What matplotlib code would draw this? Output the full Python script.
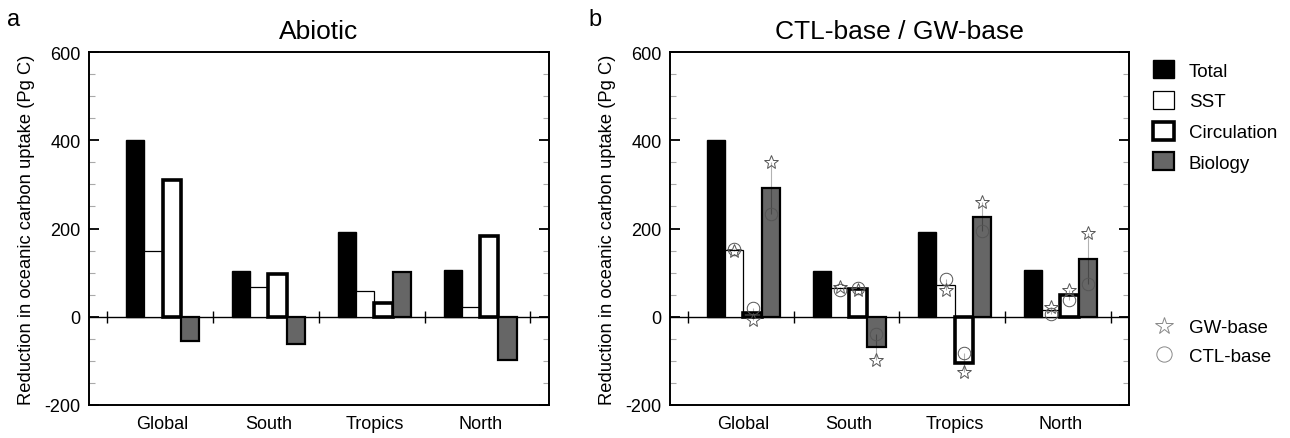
import numpy as np
import matplotlib
matplotlib.use("Agg")
import matplotlib.pyplot as plt
from matplotlib.lines import Line2D
from matplotlib.ticker import MultipleLocator

plt.rcParams['font.family'] = ['Liberation Sans', 'DejaVu Sans']
plt.rcParams['axes.unicode_minus'] = False

regions = ['Global', 'South', 'Tropics', 'North']
components = ['Total', 'SST', 'Circulation', 'Biology']

# panel a: abiotic
abiotic_total = [400, 103, 191, 107]
abiotic_sst = [150, 68, 58, 23]
abiotic_circ = [309, 97, 32, 182]
abiotic_bio = [-56, -62, 101, -97]

# panel b: mean of CTL-base and GW-base
base_total = [400, 103, 191, 107]
base_sst = [152, 66, 71, 15]
base_circ = [8, 62, -104, 49]
base_bio = [291, -69, 227, 132]

# individual estimates
gw_sst = [150, 68, 60, 22]
ctl_sst = [153, 61, 85, 7]
gw_circ = [-7, 60, -125, 60]
ctl_circ = [20, 66, -82, 37]
gw_bio = [350, -99, 259, 190]
ctl_bio = [232, -39, 194, 75]

bio_gray = '#666666'
styles = [
    dict(facecolor='black', edgecolor='black', linewidth=1.0),
    dict(facecolor='white', edgecolor='black', linewidth=0.9),
    dict(facecolor='white', edgecolor='black', linewidth=2.6),
    dict(facecolor=bio_gray, edgecolor='black', linewidth=1.6),
]

W = 0.1725
x0 = np.arange(len(regions)) + 0.18 + W / 2


def setup(ax, title):
    ax.set_xlim(-0.17, 4.175)
    ax.set_ylim(-200, 600)
    ax.axhline(0, color='black', lw=1.0, zorder=1)
    ax.plot(np.arange(len(regions) + 1), np.zeros(len(regions) + 1), '|',
            color='black', ms=9, mew=1.0, zorder=1)
    ax.set_xticks(x0 + 1.5 * W)
    ax.set_xticklabels(regions, fontsize=13)
    ax.tick_params(axis='x', length=0, pad=7)
    ax.yaxis.set_major_locator(MultipleLocator(200))
    ax.yaxis.set_minor_locator(MultipleLocator(50))
    ax.tick_params(axis='y', which='major', direction='in', length=7,
                   width=1.3, right=True, labelsize=13, pad=6)
    ax.tick_params(axis='y', which='minor', direction='in', length=4,
                   width=0.8, color='#aaaaaa', right=True)
    for s in ax.spines.values():
        s.set_linewidth(1.4)
    ax.set_ylabel('Reduction in oceanic carbon uptake (Pg C)', fontsize=13.2,
                  labelpad=7)
    ax.set_title(title, fontsize=19, pad=10)


fig = plt.figure(figsize=(12.9, 4.39), dpi=100)
ax1 = fig.add_axes([89 / 1290, 33 / 439, 460 / 1290, 353 / 439])
ax2 = fig.add_axes([670 / 1290, 33 / 439, 459 / 1290, 353 / 439])

setup(ax1, 'Abiotic')
setup(ax2, 'CTL-base / GW-base')

for k, vals in enumerate([abiotic_total, abiotic_sst, abiotic_circ, abiotic_bio]):
    ax1.bar(x0 + k * W, vals, W, zorder=2, **styles[k])

handles = []
for k, vals in enumerate([base_total, base_sst, base_circ, base_bio]):
    b = ax2.bar(x0 + k * W, vals, W, zorder=2, label=components[k], **styles[k])
    handles.append(b)

mk = dict(markerfacecolor='none', markeredgecolor='#555555',
          markeredgewidth=0.7, ls='none', zorder=4)
for k, (gw, ctl) in enumerate([(gw_sst, ctl_sst), (gw_circ, ctl_circ),
                               (gw_bio, ctl_bio)], start=1):
    xs = x0 + k * W
    ax2.vlines(xs, ctl, gw, color='black', alpha=0.3, lw=0.8, zorder=3)
    ax2.plot(xs, gw, marker='*', ms=10, **mk)
    ax2.plot(xs, ctl, marker='o', ms=9, **mk)

fig.text(7 / 1290, 1 - 20 / 439, 'a', fontsize=17, va='center', ha='left')
fig.text(588 / 1290, 1 - 20 / 439, 'b', fontsize=17, va='center', ha='left')

leg1 = fig.legend(handles=handles, loc='upper left',
                  bbox_to_anchor=(1144 / 1290, 1 - 52 / 439), frameon=False,
                  fontsize=13.5, handlelength=1.1, handleheight=1.1,
                  labelspacing=0.6, handletextpad=0.8, borderpad=0)
mk_leg = dict(markerfacecolor='none', markeredgecolor='#888888',
              markeredgewidth=0.7, ls='none')
leg2 = fig.legend(handles=[Line2D([], [], marker='*', ms=13, **mk_leg),
                           Line2D([], [], marker='o', ms=11, **mk_leg)],
                  labels=['GW-base', 'CTL-base'], loc='upper left',
                  bbox_to_anchor=(1144 / 1290, 1 - 311 / 439), frameon=False,
                  fontsize=13.5, handlelength=1.1, labelspacing=0.6,
                  handletextpad=0.8, borderpad=0)

fig.savefig('out.png', dpi=100)
